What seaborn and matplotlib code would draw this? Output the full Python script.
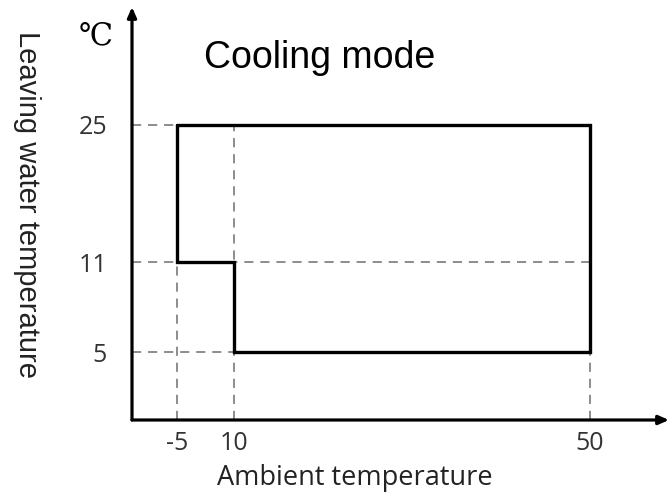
import numpy as np
import pandas as pd
import matplotlib
matplotlib.use("Agg")
import matplotlib.pyplot as plt
import seaborn as sns

# ---- data ----
x_ticks = [-5, 10, 50]
y_ticks = [5, 11, 25]
envelope_x = [-5, 50, 50, 10, 10, -5, -5]
envelope_y = [25, 25, 5, 5, 11, 11, 25]
vert_guide_top = [25, 25, 5]  # vertical dashed guide heights for x_ticks

title = "Cooling mode"
xlabel = "Ambient temperature"
ylabel = "Leaving water temperature"
unit = "℃"

sns.set_theme(style="white")
plt.rcParams['font.family'] = ['Open Sans', 'DejaVu Sans']

W, H, DPI = 669, 497, 100
fig = plt.figure(figsize=(W / DPI, H / DPI), dpi=DPI)
x0, y0 = 132, 420  # origin in pixels
ax = fig.add_axes([x0 / W, (H - y0) / H, (W - x0) / W, (y0 - 7) / H])

# piecewise-linear (non-uniform) scales as in the original drawing
xd = [-15, -5, 10, 50, 60]
xp = [0, 45, 102, 458, 537]
yd = [0, 5, 11, 25, 35]
yp = [0, 68, 158, 295, 413]
ax.set_xscale('function', functions=(lambda v: np.interp(v, xd, xp), lambda v: np.interp(v, xp, xd)))
ax.set_yscale('function', functions=(lambda v: np.interp(v, yd, yp), lambda v: np.interp(v, yp, yd)))
ax.set_xlim(xd[0], xd[-1])
ax.set_ylim(yd[0], yd[-1])

guide_kw = dict(color='#6e6e6e', lw=1.1, dashes=(6, 4.5), zorder=1)
for yv in y_ticks:
    ax.plot([xd[0], max(x_ticks)], [yv, yv], **guide_kw)
for xv, top in zip(x_ticks, vert_guide_top):
    ax.plot([xv, xv], [yd[0], top], **guide_kw)

df = pd.DataFrame({"x": envelope_x, "y": envelope_y, "order": range(len(envelope_x))})
sns.lineplot(data=df, x="x", y="y", sort=False, estimator=None, color='black', lw=2.4,
             ax=ax, zorder=3, solid_joinstyle='miter')

for s in ax.spines.values():
    s.set_visible(False)
ax.annotate('', xy=(1.0, 0), xytext=(0, 0), xycoords='axes fraction',
            arrowprops=dict(arrowstyle='-|>,head_length=0.5,head_width=0.22', lw=2.3, color='black',
                            shrinkA=0, shrinkB=0), annotation_clip=False)
ax.annotate('', xy=(0, 1.0), xytext=(0, 0), xycoords='axes fraction',
            arrowprops=dict(arrowstyle='-|>,head_length=0.5,head_width=0.22', lw=2.3, color='black',
                            shrinkA=0, shrinkB=0), annotation_clip=False)

ax.set_xticks(x_ticks)
ax.set_xticklabels([str(v) for v in x_ticks])
ax.set_yticks(y_ticks)
ax.set_yticklabels([str(v) for v in y_ticks])
ax.tick_params(axis='x', length=0, pad=8, labelsize=18, labelcolor='#333333')
ax.tick_params(axis='y', length=0, pad=18, labelsize=18, labelcolor='#333333')
ax.set_xlabel('')
ax.set_ylabel('')
ax.patch.set_alpha(0)

fig.text(355 / W, 1 - 478 / H, xlabel, ha='center', va='center', fontsize=19.5, color='#222222')
fig.text(27 / W, 1 - 205 / H, ylabel, ha='center', va='center', rotation=270, fontsize=21,
         family=['Liberation Sans', 'DejaVu Sans'], color='#222222')
fig.text(320 / W, 1 - 58 / H, title, ha='center', va='center', fontsize=27,
         family=['Liberation Sans', 'DejaVu Sans'], color='black')
fig.text(96 / W, 1 - 36 / H, unit, ha='center', va='center', fontsize=22,
         family=['DejaVu Serif', 'Noto Sans CJK JP'], color='black')

fig.savefig('out.png', dpi=DPI)
